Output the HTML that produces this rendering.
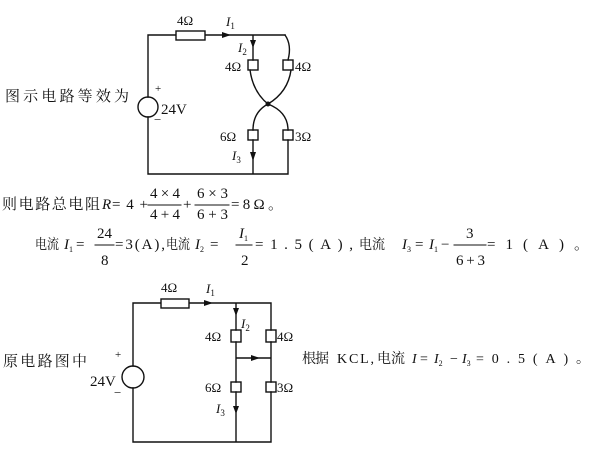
<!DOCTYPE html>
<html><head><meta charset="utf-8"><style>
body{margin:0;background:#fff;}
svg{display:block;}
text{font-family:"Liberation Serif","Noto Serif CJK SC",serif;fill:#111;}
.c{font-family:"Liberation Serif","Noto Serif CJK SC","Noto Sans CJK SC",serif;}
.i{font-style:italic;}
</style></head><body>
<svg width="602" height="452" viewBox="0 0 602 452" xmlns="http://www.w3.org/2000/svg" stroke-linecap="square">
<g stroke="#111" stroke-width="1.4" fill="none">
<path d="M148,97 V35 H176 M205,35 H285 M148,117 V174 H288 V140 M253,35 V60 M253,140 V174"/>
<rect x="176" y="31" width="29" height="9" fill="#fff"/>
<circle cx="148" cy="107" r="10"/>
<rect x="248" y="60" width="10" height="10"/>
<rect x="283" y="60" width="10" height="10"/>
<rect x="248" y="130" width="10" height="10"/>
<rect x="283" y="130" width="10" height="10"/>
<path d="M285,35 Q292,45 288,60"/>
<path d="M250,70 Q253,92 268,104 M291,70 Q288,92 268,104"/>
<path d="M268,104 Q253,112 253,130 M268,104 Q288,112 288,130"/>
<path d="M133,366 V303 H161 M189,303 H271 V330 M133,388 V442 H271 V392 M236,303 V330 M236,342 V382 M236,392 V442 M271,342 V382 M236,358 H271"/>
<rect x="161" y="299" width="28" height="9" fill="#fff"/>
<circle cx="133" cy="377" r="11"/>
<rect x="231" y="330" width="10" height="12"/>
<rect x="266" y="330" width="10" height="12"/>
<rect x="231" y="382" width="10" height="10"/>
<rect x="266" y="382" width="10" height="10"/>
</g>
<g fill="#111">
<circle cx="268" cy="104" r="2.5"/>
<path d="M222,32 L231,35 L222,38Z"/>
<path d="M250,40 L253,48 L256,40Z"/>
<path d="M250,152 L253,161 L256,152Z"/>
<path d="M204,300 L213,303 L204,306Z"/>
<path d="M233,308 L236,316 L239,308Z"/>
<path d="M251,355 L260,358 L251,361Z"/>
<path d="M233,406 L236,414 L239,406Z"/>
</g>
<g font-size="13">
<text x="177" y="25">4Ω</text>
<text x="226" y="26" class="i">I<tspan font-size="9" dy="3" font-style="normal">1</tspan></text>
<text x="238" y="52" class="i">I<tspan font-size="9" dy="3" font-style="normal">2</tspan></text>
<text x="225" y="71">4Ω</text>
<text x="295" y="71">4Ω</text>
<text x="220" y="141">6Ω</text>
<text x="295" y="141">3Ω</text>
<text x="232" y="160" class="i">I<tspan font-size="9" dy="3" font-style="normal">3</tspan></text>
<text x="155" y="92" font-size="11">+</text>
<text x="154" y="124" font-size="13">−</text>
<text x="161" y="114" font-size="15">24V</text>
<text x="5" y="101" class="c" font-size="15" textLength="124" lengthAdjust="spacing">图示电路等效为</text>

<text x="161" y="292">4Ω</text>
<text x="206" y="293" class="i">I<tspan font-size="9" dy="3" font-style="normal">1</tspan></text>
<text x="241" y="328" class="i">I<tspan font-size="9" dy="3" font-style="normal">2</tspan></text>
<text x="205" y="341">4Ω</text>
<text x="277" y="341">4Ω</text>
<text x="205" y="392">6Ω</text>
<text x="277" y="392">3Ω</text>
<text x="216" y="413" class="i">I<tspan font-size="9" dy="3" font-style="normal">3</tspan></text>
<text x="115" y="358" font-size="11">+</text>
<text x="114" y="397" font-size="13">−</text>
<text x="90" y="386" font-size="15">24V</text>
<text x="3" y="366" class="c" font-size="15" textLength="84" lengthAdjust="spacing">原电路图中</text>
</g>
<g font-size="15" class="c">
<text x="302" y="363" font-size="14" textLength="27" lengthAdjust="spacing">根据</text>
<text x="337" y="363" font-size="14" textLength="37" lengthAdjust="spacing">KCL,</text>
<text x="377" y="363" font-size="14" textLength="28" lengthAdjust="spacing">电流</text>
<text x="412" y="363" class="i" font-size="14">I</text>
<text x="420" y="363" font-size="14">=</text>
<text x="434" y="363" class="i" font-size="14">I<tspan font-size="8" dy="3" font-style="normal">2</tspan></text>
<text x="450" y="363" font-size="14">−</text>
<text x="462" y="363" class="i" font-size="14">I<tspan font-size="8" dy="3" font-style="normal">3</tspan></text>
<text x="476" y="363" font-size="14" textLength="114" lengthAdjust="spacing">=0.5(A)。</text>

<text x="2" y="209" textLength="98" lengthAdjust="spacing">则电路总电阻</text>
<text x="102" y="209" class="i">R</text>
<text x="112" y="209" textLength="36" lengthAdjust="spacing">=4+</text>
<text x="150" y="198" textLength="30" lengthAdjust="spacing">4×4</text><text x="150" y="219" textLength="30" lengthAdjust="spacing">4+4</text>
<text x="183" y="209">+</text>
<text x="197" y="198" textLength="31" lengthAdjust="spacing">6×3</text><text x="197" y="219" textLength="31" lengthAdjust="spacing">6+3</text>
<text x="231" y="209" textLength="52" lengthAdjust="spacing">=8Ω。</text>

<text x="35" y="249" font-size="14" textLength="24" lengthAdjust="spacingAndGlyphs">电流</text>
<text x="64" y="249" class="i">I<tspan font-size="8" dy="3" font-style="normal">1</tspan></text>
<text x="76" y="249">=</text>
<text x="97" y="238">24</text><text x="101" y="265">8</text>
<text x="115" y="249" textLength="50" lengthAdjust="spacing">=3(A),</text>
<text x="166" y="249" font-size="14" textLength="24" lengthAdjust="spacingAndGlyphs">电流</text>
<text x="195" y="249" class="i">I<tspan font-size="8" dy="3" font-style="normal">2</tspan></text>
<text x="210" y="249">=</text>
<text x="239" y="238" class="i">I<tspan font-size="8" dy="3" font-style="normal">1</tspan></text><text x="241" y="265">2</text>
<text x="255" y="249" textLength="98" lengthAdjust="spacing">=1.5(A),</text>
<text x="359" y="249" font-size="14" textLength="26" lengthAdjust="spacingAndGlyphs">电流</text>
<text x="402" y="249" class="i">I<tspan font-size="8" dy="3" font-style="normal">3</tspan></text>
<text x="415" y="249">=</text>
<text x="429" y="249" class="i">I<tspan font-size="8" dy="3" font-style="normal">1</tspan></text>
<text x="441" y="249">−</text>
<text x="466" y="238">3</text><text x="456" y="265" textLength="29" lengthAdjust="spacing">6+3</text>
<text x="487" y="249" textLength="102" lengthAdjust="spacing">=1(A)。</text>
</g>
<g stroke="#111" stroke-width="1">
<line x1="148" y1="205" x2="181" y2="205"/>
<line x1="195" y1="205" x2="229" y2="205"/>
<line x1="95" y1="245" x2="114" y2="245"/>
<line x1="236" y1="245" x2="252" y2="245"/>
<line x1="454" y1="245" x2="486" y2="245"/>
</g>
</svg>
</body></html>
